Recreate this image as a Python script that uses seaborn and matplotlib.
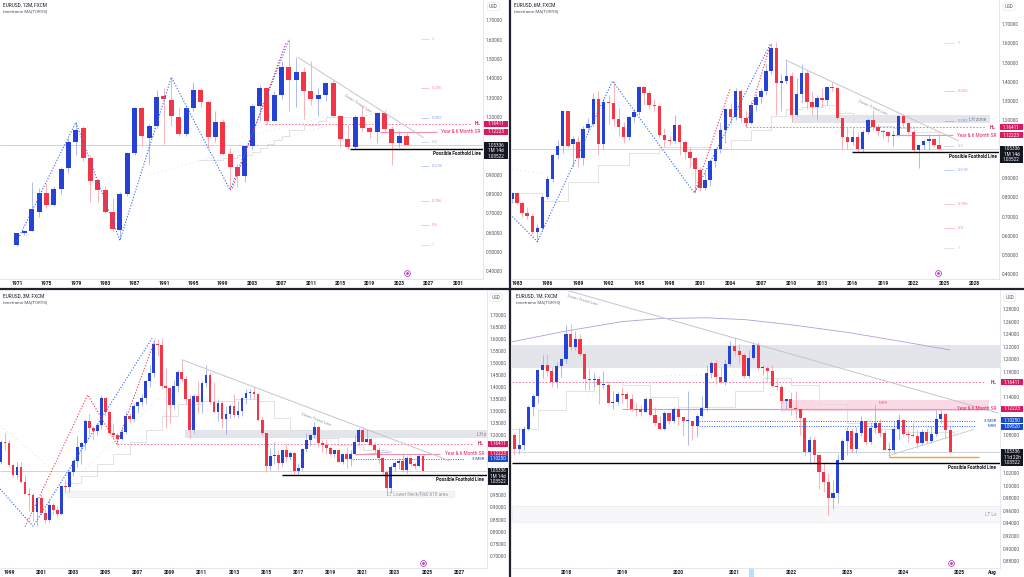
import numpy as np
import matplotlib
matplotlib.use("Agg")
import matplotlib.pyplot as plt
from matplotlib.patches import Rectangle
from matplotlib.lines import Line2D
import seaborn as sns

sns.set_theme(style="white")
plt.rcParams['font.family'] = ['Roboto', 'DejaVu Sans']

BLUE = '#2541d6'; RED = '#f23645'; WBLUE = '#9fb0ee'; WRED = '#f8a5ad'
CRIM = '#d81b60'; TBLUE = '#1848cc'; GREY = '#b2b5be'; DARK = '#131722'; LBL = '#50535e'

# ---------------- DATA ----------------
# Panel 1: 12M candles
y12_years = list(range(1971, 2025))
y12_open = [.535,.596,.608,.707,.807,.743,.828,.934,1.072,1.142,.989,.871,.821,.708,.613,.799,1.015,1.244,1.090,1.154,
            1.308,1.289,1.201,1.111,1.244,1.339,1.275,1.093,1.171,1.007,.941,.891,1.048,1.256,1.350,1.180,1.315,1.457,
            1.391,1.431,1.336,1.291,1.313,1.374,1.206,1.085,1.045,1.197,1.140,1.119,1.218,1.137,1.066,1.102]
y12_close = [.596,.608,.721,.807,.743,.828,.929,1.072,1.131,.989,.868,.821,.708,.617,.799,1.015,1.244,1.102,1.154,1.305,
             1.291,1.206,1.111,1.244,1.339,1.275,1.093,1.171,1.007,.941,.891,1.048,1.256,1.350,1.180,1.315,1.457,1.391,
             1.431,1.336,1.291,1.313,1.374,1.206,1.085,1.045,1.197,1.140,1.119,1.218,1.137,1.062,1.102,1.053]
y12_high = [.60,.615,.86,.83,.855,.84,.94,1.09,1.171,1.15,1.00,.88,.84,.78,.81,1.02,1.25,1.25,1.165,1.34,1.35,1.405,1.25,
            1.25,1.38,1.35,1.28,1.23,1.19,1.04,.955,1.05,1.265,1.367,1.35,1.335,1.49,1.604,1.51,1.46,1.49,1.35,1.38,1.39,
            1.21,1.16,1.21,1.255,1.155,1.225,1.235,1.15,1.128,1.12]
y12_low = [.53,.59,.62,.68,.73,.74,.80,.91,1.00,.97,.76,.76,.70,.61,.565,.79,1.00,1.05,.955,1.14,1.06,1.15,1.10,1.10,1.23,
           1.25,1.04,1.07,1.00,.823,.835,.86,1.03,1.18,1.164,1.18,1.29,1.23,1.25,1.19,1.26,1.205,1.28,1.20,1.046,1.035,
           1.034,1.12,1.088,1.063,1.12,.953,1.045,1.052]

# Panel 2: 6M candles from 1982.5
m6_start = 1982.5
m6_open = [0.79,0.822,0.769,0.717,0.705,0.618,0.642,0.80,0.895,1.02,1.068,1.248,1.077,1.089,1.002,1.162,1.179,1.31,1.077,
           1.297,1.288,1.207,1.167,1.115,1.215,1.245,1.371,1.34,1.279,1.274,1.124,1.098,1.092,1.174,1.089,1.037,1.002,
           0.942,0.85,0.89,0.99,1.049,1.15,1.257,1.219,1.354,1.21,1.184,1.28,1.319,1.354,1.458,1.577,1.395,1.404,1.432,
           1.227,1.336,1.447,1.297,1.267,1.317,1.305,1.375,1.369,1.21,1.115,1.089,1.111,1.051,1.141,1.201,1.167,1.146,
           1.137,1.121,1.123,1.221,1.186,1.137,1.048,1.07,1.091,1.104,1.071]
m6_close = [0.822,0.769,0.717,0.705,0.618,0.642,0.80,0.895,1.02,1.068,1.248,1.068,1.103,1.002,1.155,1.179,1.31,1.077,1.297,
            1.288,1.207,1.167,1.115,1.215,1.245,1.371,1.34,1.279,1.274,1.124,1.098,1.092,1.174,1.089,1.037,1.002,0.947,
            0.85,0.89,0.99,1.049,1.15,1.257,1.219,1.354,1.21,1.184,1.28,1.319,1.354,1.458,1.577,1.395,1.404,1.432,1.227,
            1.336,1.447,1.297,1.267,1.317,1.305,1.375,1.369,1.21,1.115,1.089,1.111,1.051,1.141,1.201,1.167,1.146,1.137,
            1.121,1.123,1.221,1.186,1.137,1.048,1.07,1.091,1.104,1.071,1.053]
m6_high = [0.83,0.83,0.78,0.75,0.72,0.66,0.81,0.91,1.03,1.10,1.25,1.25,1.12,1.12,1.17,1.21,1.34,1.35,1.31,1.33,1.405,1.27,
           1.19,1.22,1.26,1.38,1.38,1.35,1.31,1.28,1.16,1.12,1.23,1.18,1.09,1.06,1.00,0.955,0.93,1.00,1.05,1.19,1.265,
           1.29,1.367,1.36,1.25,1.30,1.335,1.37,1.49,1.60,1.604,1.44,1.51,1.45,1.42,1.49,1.46,1.35,1.33,1.37,1.38,1.40,
           1.37,1.21,1.17,1.16,1.14,1.15,1.21,1.255,1.18,1.157,1.14,1.15,1.228,1.235,1.19,1.15,1.07,1.10,1.128,1.10,1.12]
m6_low = [0.77,0.76,0.70,0.69,0.61,0.57,0.63,0.79,0.88,1.00,1.03,1.06,0.96,0.955,0.97,1.14,1.17,1.02,1.05,1.18,1.17,1.12,
          1.08,1.10,1.19,1.23,1.28,1.26,1.25,1.11,1.06,1.07,1.08,1.02,1.00,0.95,0.823,0.835,0.837,0.86,0.96,1.03,1.08,
          1.18,1.20,1.19,1.164,1.18,1.25,1.29,1.33,1.44,1.23,1.25,1.39,1.19,1.22,1.29,1.26,1.23,1.205,1.27,1.28,1.35,
          1.20,1.046,1.05,1.07,1.035,1.034,1.13,1.15,1.12,1.11,1.088,1.064,1.12,1.17,1.12,1.035,0.953,1.05,1.045,1.06,1.052]

# Panel 3: 3M candles from 1998.5
q_start = 1998.5
q_first_open = 1.087
q_close = [1.171,1.167,1.077,1.036,1.067,1.007,0.957,0.953,0.883,0.939,0.877,0.847,0.912,0.890,0.872,0.991,0.986,1.049,
           1.091,1.150,1.166,1.259,1.230,1.219,1.243,1.356,1.296,1.210,1.202,1.184,1.212,1.279,1.268,1.320,1.336,1.353,
           1.426,1.459,1.579,1.575,1.405,1.397,1.325,1.403,1.464,1.432,1.351,1.223,1.363,1.336,1.417,1.450,1.339,1.296,
           1.334,1.266,1.286,1.319,1.282,1.301,1.353,1.375,1.377,1.369,1.263,1.210,1.073,1.115,1.117,1.086,1.138,1.110,
           1.124,1.052,1.065,1.143,1.181,1.200,1.232,1.168,1.161,1.147,1.122,1.137,1.090,1.121,1.103,1.123,1.172,1.221,
           1.173,1.186,1.158,1.137,1.107,1.048,0.980,1.070,1.084,1.091,1.057,1.104,1.079,1.071,1.113,1.053]
q_high = [1.18,1.21,1.18,1.08,1.09,1.09,1.035,0.98,0.96,0.94,0.955,0.895,0.93,0.92,0.905,0.995,1.02,1.05,1.10,1.195,
          1.17,1.265,1.29,1.24,1.25,1.367,1.35,1.30,1.25,1.21,1.23,1.30,1.29,1.335,1.34,1.37,1.43,1.49,1.59,1.60,
          1.604,1.48,1.40,1.43,1.47,1.51,1.45,1.37,1.37,1.425,1.425,1.49,1.46,1.42,1.35,1.34,1.32,1.33,1.37,1.34,
          1.36,1.39,1.39,1.40,1.37,1.28,1.21,1.145,1.17,1.14,1.14,1.162,1.135,1.13,1.083,1.145,1.21,1.205,1.255,1.24,
          1.18,1.18,1.157,1.14,1.14,1.125,1.15,1.14,1.201,1.23,1.235,1.226,1.19,1.17,1.15,1.11,1.05,1.075,1.093,1.105,
          1.128,1.114,1.105,1.09,1.121,1.112]
q_low = [1.08,1.14,1.07,1.025,1.02,1.00,0.955,0.885,0.845,0.823,0.87,0.837,0.84,0.875,0.859,0.87,0.96,0.965,1.03,1.07,
         1.08,1.14,1.205,1.18,1.20,1.225,1.28,1.205,1.19,1.164,1.18,1.205,1.25,1.26,1.29,1.32,1.33,1.40,1.44,1.53,
         1.39,1.23,1.25,1.31,1.38,1.42,1.33,1.19,1.21,1.29,1.29,1.40,1.33,1.29,1.26,1.23,1.205,1.27,1.275,1.27,
         1.28,1.33,1.35,1.35,1.26,1.20,1.046,1.055,1.08,1.055,1.071,1.09,1.095,1.035,1.034,1.057,1.13,1.155,1.19,1.151,
         1.13,1.12,1.118,1.11,1.088,1.08,1.064,1.073,1.12,1.16,1.17,1.17,1.155,1.12,1.08,1.035,0.953,0.963,1.05,1.06,
         1.048,1.045,1.072,1.06,1.067,1.052]

# Panel 4: 1M candles from Jan 2017
mo_start = 2017.0
mo_first_open = 1.052
mo_close = [1.080,1.058,1.065,1.090,1.124,1.142,1.184,1.191,1.181,1.164,1.190,1.200,
            1.241,1.219,1.232,1.208,1.169,1.168,1.169,1.160,1.160,1.131,1.133,1.146,
            1.145,1.137,1.122,1.121,1.117,1.137,1.112,1.099,1.090,1.115,1.102,1.121,
            1.109,1.103,1.103,1.095,1.110,1.123,1.178,1.194,1.172,1.165,1.193,1.221,
            1.214,1.207,1.173,1.202,1.223,1.186,1.187,1.181,1.158,1.156,1.134,1.137,
            1.123,1.122,1.107,1.054,1.073,1.048,1.022,1.005,0.980,0.988,1.040,1.070,
            1.086,1.058,1.084,1.102,1.069,1.091,1.100,1.084,1.057,1.057,1.090,1.104,
            1.082,1.080,1.079,1.067,1.085,1.071,1.082,1.105,1.113,1.088,1.053]
mo_high = [1.082,1.083,1.091,1.095,1.127,1.145,1.185,1.207,1.209,1.188,1.196,1.203,
           1.254,1.256,1.245,1.240,1.210,1.185,1.179,1.173,1.182,1.162,1.150,1.148,
           1.157,1.149,1.145,1.132,1.127,1.141,1.141,1.125,1.111,1.118,1.110,1.124,
           1.124,1.106,1.150,1.102,1.113,1.142,1.191,1.197,1.201,1.188,1.200,1.230,
           1.235,1.224,1.210,1.215,1.227,1.227,1.191,1.190,1.191,1.169,1.161,1.138,
           1.148,1.150,1.118,1.108,1.079,1.077,1.049,1.037,1.020,1.009,1.050,1.074,
           1.093,1.092,1.093,1.110,1.103,1.101,1.128,1.106,1.088,1.069,1.102,1.114,
           1.105,1.090,1.099,1.088,1.090,1.092,1.094,1.120,1.121,1.114,1.094]
mo_low = [1.034,1.049,1.050,1.057,1.088,1.110,1.131,1.170,1.173,1.157,1.155,1.172,
          1.192,1.215,1.215,1.205,1.151,1.151,1.157,1.130,1.155,1.131,1.122,1.127,
          1.131,1.123,1.118,1.110,1.110,1.118,1.110,1.096,1.088,1.088,1.098,1.099,
          1.096,1.078,1.064,1.073,1.077,1.109,1.119,1.171,1.161,1.162,1.160,1.190,
          1.205,1.195,1.170,1.170,1.200,1.184,1.175,1.166,1.156,1.152,1.119,1.122,
          1.112,1.106,1.081,1.047,1.035,1.036,0.995,0.990,0.954,0.963,0.973,1.039,
          1.048,1.052,1.052,1.078,1.064,1.066,1.083,1.077,1.056,1.045,1.051,1.072,
          1.079,1.069,1.077,1.060,1.065,1.067,1.067,1.078,1.100,1.076,1.051]

# key levels
HL_LEVEL = 1.16411
SR_LEVEL = 1.12223
MSR3_LEVEL = 1.10250
MSR_LEVEL = 1.09520
CUR_PRICE = 1.05336
FOOT_LEVEL = 1.03522
FIB_HIGH, FIB_LOW = 1.6025, 0.535
FIB_RATIOS = [0, 0.236, 0.382, 0.5, 0.618, 0.786, 0.9, 1]
FIB_LABELS = ['0', '0.236', '0.382', '0.5', '0.618', '0.786', '0.9', '1']
FIB_COLORS = ['#9598a1', '#f23645', '#2962ff', '#5d7bb7', '#2962ff', '#f23645', '#f23645', '#9598a1']

# overlay paths (year, price)
p1_zig_x = [1971, 1979, 1985, 1992, 2000, 2008]
p1_zig_y = [0.556, 1.171, 0.559, 1.405, 0.820, 1.600]
p1_red_x = [2000.3, 2007.6]
p1_red_y = [0.83, 1.585]
p1_trend_x = [2009.3, 2026.3]; p1_trend_y = [1.506, 1.093]
p1_ma_x = [1995.7, 1999, 2001, 2003, 2004, 2005, 2006, 2007, 2008, 2010, 2012, 2013, 2015, 2016.5]
p1_ma_y = [0.975, 0.985, 1.00, 1.02, 1.04, 1.06, 1.08, 1.10, 1.13, 1.16, 1.18, 1.20, 1.20, 1.20]
p1_dot_x = [1989.0, 2021.7]; p1_dot_y = [0.90, 1.24]
p1_dot2_x = [2000.0, 2013.6]; p1_dot2_y = [1.075, 1.206]

p2_zig_x = [1982.55, 1985.0, 1992.4, 2000.45, 2007.95]
p2_zig_y = [0.70, 0.570, 1.404, 0.822, 1.600]
p2_red1_x = [2000.5, 2004.0]; p2_red1_y = [0.83, 1.37]
p2_red2_x = [2005.5, 2007.9]; p2_red2_y = [1.17, 1.59]
p2_trend_x = [2009.4, 2026.4]; p2_trend_y = [1.513, 1.094]
p2_ma_x = [1982.5, 1985.5, 1988, 1991, 1994, 1997, 2000, 2002, 2004, 2006, 2008, 2009.5, 2011, 2013, 2014.5, 2016, 2018, 2020, 2022, 2024.5]
p2_ma_y = [0.82, 0.78, 0.88, 0.97, 1.03, 1.06, 1.06, 1.05, 1.10, 1.15, 1.22, 1.26, 1.27, 1.28, 1.24, 1.19, 1.17, 1.16, 1.14, 1.12]
p2_dot_x = [2010.5, 2026.0]; p2_dot_y = [1.30, 1.12]
p2_dot2_x = [1982.5, 1985.5]; p2_dot2_y = [0.945, 0.925]

p3_blue_x = [1998.44, 2000.5, 2007.9]; p3_blue_y = [0.977, 0.822, 1.602]
p3_red_x = [2000.0, 2003.9, 2005.7, 2008.1]; p3_red_y = [0.82, 1.367, 1.163, 1.60]
p3_trend_x = [2009.75, 2026.4]; p3_trend_y = [1.513, 1.094]
p3_ma_x = [2002.5, 2003.5, 2004.5, 2005.5, 2006.5, 2007.5, 2008.5, 2009.5, 2011, 2013, 2014.5, 2015.5, 2016.5, 2018, 2019.5, 2021, 2022.5, 2024.8]
p3_ma_y = [1.00, 1.03, 1.08, 1.12, 1.17, 1.22, 1.28, 1.33, 1.34, 1.35, 1.34, 1.27, 1.22, 1.19, 1.16, 1.14, 1.12, 1.11]
p3_dot_x = [1998.44, 2002.4]; p3_dot_y = [1.24, 1.018]
p3_dot2_x = [2002.6, 2008.3]; p3_dot2_y = [0.99, 1.35]
p3_purple_x = [2020.6, 2022.8]; p3_purple_y = [1.118, 1.13]

p4_trend_x = [2017.93, 2025.69]; p4_trend_y = [1.3117, 1.115]
p4_long_x = [2017.04, 2018.0, 2019.0, 2019.7, 2020.5, 2021.2, 2022.0, 2023.0, 2024.0, 2024.83]
p4_long_y = [1.228, 1.245, 1.260, 1.265, 1.266, 1.263, 1.255, 1.243, 1.228, 1.215]
p4_ma_x = [2017.04, 2017.5, 2018.0, 2018.5, 2019.0, 2019.5, 2020.0, 2020.5, 2021.0, 2021.5, 2022.0, 2022.5, 2023.0, 2023.5, 2024.0, 2024.9]
p4_ma_y = [1.09, 1.12, 1.15, 1.165, 1.16, 1.14, 1.125, 1.125, 1.15, 1.17, 1.16, 1.13, 1.10, 1.09, 1.085, 1.08]
p4_dot_x = [2018.4, 2019.0, 2020.0, 2021.0, 2021.8, 2022.4]
p4_dot_y = [1.14, 1.17, 1.175, 1.175, 1.16, 1.12]
p4_rise_x = [2023.74, 2025.25]; p4_rise_y = [1.0475, 1.089]
p4_orange_x = [2023.74, 2025.34]; p4_orange_level = 1.0455

# ---------------- FIGURE ----------------
W, H = 1024, 577
fig = plt.figure(figsize=(W / 100, H / 100), dpi=100)
fig.patch.set_facecolor('white')


def fb(x0, y0, x1, y1):
    return [x0 / W, 1 - y1 / H, (x1 - x0) / W, (y1 - y0) / H]


def make_panel(box, sbox, xlim, ylim, yticks, xticks, xlabels, title, header_xy):
    ax = fig.add_axes(fb(*box))
    ax.set_facecolor('white')
    ax.set_xlim(xlim); ax.set_ylim(ylim)
    ax.yaxis.tick_right()
    ax.set_xticks(xticks)
    ax.set_xticklabels(xlabels)
    ax.tick_params(axis='y', length=0, pad=2.2, labelsize=3.4, labelcolor=LBL)
    ax.tick_params(axis='x', length=0, pad=1.6, labelsize=3.5, labelcolor=DARK)
    for lb in ax.get_xticklabels():
        lb.set_fontweight('bold')
    for s in ['top', 'left']:
        ax.spines[s].set_visible(False)
    for s in ['right', 'bottom']:
        ax.spines[s].set_color('#e0e3eb'); ax.spines[s].set_linewidth(0.6)
    ax.grid(False)
    sax = fig.add_axes(fb(*sbox))
    sax.set_xlim(0, 1); sax.set_ylim(ylim); sax.axis('off')
    sax.patch.set_alpha(0)
    ppu = (box[3] - box[1]) / (ylim[1] - ylim[0])
    ppx = (box[2] - box[0]) / (xlim[1] - xlim[0])
    hx, hy = header_xy
    fig.text(hx / W, 1 - hy / H, title, fontsize=3.4, color=DARK, va='center')
    fig.text(hx / W, 1 - (hy + 6.5) / H, 'timeframe MA[TORYS]', fontsize=3.2, color=LBL, va='center')
    sax.text(0.4, ylim[1] - 6.5 / ppu, 'USD', fontsize=3.3, color=LBL, ha='center', va='center',
             bbox=dict(boxstyle='round,pad=0.35,rounding_size=0.4', fc='white', ec='#e0e3eb', lw=0.4))
    covered = [(ylim[1] - 11 / ppu, ylim[1] + 1)]
    return dict(ax=ax, sax=sax, ppu=ppu, ppx=ppx, xlim=xlim, ylim=ylim, yticks=yticks, covered=covered)


def finish_ticks(P):
    # price labels hidden behind the scale tags are left out, as on the original scale
    ppu = P['ppu']
    keep = []
    for v in P['yticks']:
        ok = True
        for lo, hi in P['covered']:
            if lo - 2.6 / ppu < v < hi + 2.6 / ppu:
                ok = False
        if ok:
            keep.append(v)
    P['ax'].set_yticks(keep)
    P['ax'].set_yticklabels([f"{v:.5f}" for v in keep])


def candles(P, x, o, h, l, c, w):
    ax = P['ax']
    x = np.asarray(x, float); o = np.asarray(o, float); c = np.asarray(c, float)
    h = np.maximum(np.asarray(h, float), np.maximum(o, c))
    l = np.minimum(np.asarray(l, float), np.minimum(o, c))
    up = c >= o
    ax.vlines(x, l, h, colors=np.where(up, WBLUE, WRED), lw=0.6, zorder=3)
    body = c - o
    mh = 1.0 / P['ppu']
    body = np.where(np.abs(body) < mh, np.where(up, mh, -mh), body)
    ax.bar(x, body, bottom=o, width=w, color=np.where(up, BLUE, RED), linewidth=0, zorder=4)


def line(P, xs, ys, color, lw=0.7, ls='-', alpha=1.0, z=5, step=False):
    kw = dict(drawstyle='steps-post') if step else {}
    sns.lineplot(x=xs, y=ys, ax=P['ax'], color=color, linewidth=lw, linestyle=ls, alpha=alpha,
                 sort=False, estimator=None, legend=False, zorder=z, **kw)


def hline(P, y, x0, x1, color, lw=0.7, ls='-', alpha=1.0, z=5):
    P['ax'].plot([x0, x1], [y, y], color=color, lw=lw, ls=ls, alpha=alpha, zorder=z, solid_capstyle='butt')


def label(P, x, y, s, color, ha='right', size=3.4, weight='normal', clip=False, va='center'):
    P['ax'].text(x, y, s, color=color, ha=ha, va=va, fontsize=size, fontweight=weight, zorder=8, clip_on=clip)


def trend_text(P, xs, ys, frac, s, dy=0.0):
    x = xs[0] + frac * (xs[1] - xs[0]); y = ys[0] + frac * (ys[1] - ys[0]) + dy
    ang = np.degrees(np.arctan2((ys[1] - ys[0]) * P['ppu'], (xs[1] - xs[0]) * P['ppx']))
    P['ax'].text(x, y, s, rotation=ang, rotation_mode='anchor', ha='center', va='bottom',
                 fontsize=3.1, color='#9598a1', zorder=6)


def tag(P, y, s, color, h=6.0):
    d = h / 2 / P['ppu']
    P['sax'].add_patch(Rectangle((0.04, y - d), 0.92, 2 * d, fc=color, ec='none', zorder=5))
    P['sax'].text(0.5, y, s, color='white', fontsize=3.3, ha='center', va='center', zorder=6)
    P['covered'].append((y - d, y + d))


def black_box(P, y, rows):
    ppu = P['ppu']
    top = y + 3.0 / ppu
    P['sax'].add_patch(Rectangle((0.04, top - 17.0 / ppu), 0.92, 17.0 / ppu, fc=DARK, ec='none', zorder=5))
    for k, r in enumerate(rows):
        P['sax'].text(0.5, top - (3.0 + 5.5 * k) / ppu, r, color='white', fontsize=3.3,
                      ha='center', va='center', zorder=6)
    P['covered'].append((top - 17.0 / ppu, top))


def fib(P, x0, x1, xl):
    for r, lab, col in zip(FIB_RATIOS, FIB_LABELS, FIB_COLORS):
        y = FIB_HIGH - r * (FIB_HIGH - FIB_LOW)
        hline(P, y, x0, x1, col, lw=0.6, alpha=0.35)
        label(P, xl, y, lab, col, ha='left', size=3.1)
        P['ax'].texts[-1].set_alpha(0.55)


def icon(P, fx, fy):
    P['ax'].plot([fx], [fy], marker='o', ms=4.2, mfc='white', mec='#ab47bc', mew=0.6,
                 transform=P['ax'].transAxes, clip_on=False, zorder=9)
    P['ax'].plot([fx], [fy], marker='o', ms=1.0, color='#ab47bc', transform=P['ax'].transAxes,
                 clip_on=False, zorder=9)


def common_levels(P, hl_start, hl_end, sr_range, foot_start):
    ax = P['ax']
    ax.axhline(CUR_PRICE, color='#c9ccd3', lw=0.6, zorder=2)
    hline(P, HL_LEVEL, hl_start, hl_end, '#f06292', lw=0.6, ls=(0, (2, 2)), z=2)
    hline(P, SR_LEVEL, sr_range[0], sr_range[1], '#f48fb1', lw=0.8, z=2)
    hline(P, FOOT_LEVEL, foot_start, P['xlim'][1], '#000000', lw=1.0, z=7)


MA_COL = '#dadde2'
DOT_COL = '#d0d3d9'

# ---------------- PANEL 1 (12M) ----------------
P1 = make_panel((0, 0, 483, 279), (483, 0, 509, 279), (1968.69, 2034.4), (0.360, 1.805),
                [round(0.4 + 0.1 * i, 2) for i in range(14)], list(range(1971, 2032, 4)),
                [str(v) for v in range(1971, 2032, 4)], 'EURUSD, 12M, FXCM', (3, 5))
line(P1, p1_ma_x, p1_ma_y, MA_COL, lw=0.6, z=2, step=True)
line(P1, p1_dot_x, p1_dot_y, DOT_COL, lw=0.6, ls=(0, (1, 4)), z=2)
line(P1, p1_dot2_x, p1_dot2_y, DOT_COL, lw=0.6, ls=(0, (1, 4)), z=2)
common_levels(P1, 2004.7, 2032.6, (2020.4, 2028.2), 2016.3)
candles(P1, y12_years, y12_open, y12_high, y12_low, y12_close, 0.68)
line(P1, p1_zig_x, p1_zig_y, '#2962ff', lw=0.8, ls=(0, (1, 1.6)), z=6)
line(P1, p1_red_x, p1_red_y, '#f23645', lw=0.8, ls=(0, (1, 1.6)), z=6)
line(P1, p1_trend_x, p1_trend_y, '#c3c6cd', lw=0.7, z=6)
trend_text(P1, p1_trend_x, p1_trend_y, 0.47, 'Down Trend Line', dy=-0.05)
fib(P1, 2026.0, 2027.0, 2027.4)
label(P1, 2034.0, HL_LEVEL, 'HL', CRIM, weight='bold')
label(P1, 2034.0, SR_LEVEL, 'Year & 6 Month SR', '#e91e63')
label(P1, 2034.1, 1.012, 'Possible Foothold Line', DARK, weight='bold')
tag(P1, HL_LEVEL, '1.16411', CRIM)
tag(P1, SR_LEVEL, '1.12223', CRIM)
black_box(P1, CUR_PRICE, ['1.05336', '1M 14d', '1.03522'])
icon(P1, 406.7 / 483, 6 / 279)
finish_ticks(P1)

# ---------------- PANEL 2 (6M) ----------------
P2 = make_panel((512, 0, 999, 279), (999, 0, 1024, 279), (1982.51, 2030.4), (0.376, 1.8246),
                [round(0.4 + 0.1 * i, 2) for i in range(14)], list(range(1983, 2029, 3)),
                [str(v) for v in range(1983, 2029, 3)], 'EURUSD, 6M, FXCM', (514, 5))
m6_x = [m6_start + 0.5 * i for i in range(len(m6_close))]
line(P2, p2_ma_x, p2_ma_y, MA_COL, lw=0.6, z=2, step=True)
line(P2, p2_dot_x, p2_dot_y, DOT_COL, lw=0.6, ls=(0, (1, 4)), z=2)
line(P2, p2_dot2_x, p2_dot2_y, DOT_COL, lw=0.6, ls=(0, (1, 4)), z=2)
P2['ax'].add_patch(Rectangle((2010.0, 1.188), 2029.5 - 2010.0, 1.225 - 1.188, fc='#d1d4dc', ec='none',
                             alpha=0.6, zorder=1))
common_levels(P2, 2005.5, 2029.0, (2020.2, 2025.9), 2015.9)
candles(P2, m6_x, m6_open, m6_high, m6_low, m6_close, 0.34)
line(P2, p2_zig_x, p2_zig_y, '#2962ff', lw=0.8, ls=(0, (1, 1.6)), z=6)
line(P2, p2_red1_x, p2_red1_y, '#f23645', lw=0.8, ls=(0, (1, 1.6)), z=6)
line(P2, p2_red2_x, p2_red2_y, '#f23645', lw=0.8, ls=(0, (1, 1.6)), z=6)
line(P2, p2_trend_x, p2_trend_y, '#c3c6cd', lw=0.7, z=6)
trend_text(P2, p2_trend_x, p2_trend_y, 0.5, 'Down Trend Line', dy=-0.05)
fib(P2, 2025.0, 2026.0, 2026.3)
label(P2, 2028.3, 1.206, 'LH zone', '#787b86', ha='center', size=3.3)
label(P2, 2030.1, HL_LEVEL, 'HL', CRIM, weight='bold')
label(P2, 2030.1, SR_LEVEL, 'Year & 6 Month SR', '#e91e63')
label(P2, 2030.2, 1.0145, 'Possible Foothold Line', DARK, weight='bold')
tag(P2, HL_LEVEL, '1.16411', CRIM)
tag(P2, SR_LEVEL, '1.12223', CRIM)
black_box(P2, CUR_PRICE, ['1.05336', '1M 14d', '1.03522'])
icon(P2, (938 - 512) / 487, 6 / 279)
finish_ticks(P2)

# ---------------- PANEL 3 (3M) ----------------
P3 = make_panel((0, 291, 487, 568), (487, 291, 509, 568), (1998.44, 2028.74), (0.649, 1.798),
                [round(0.70 + 0.05 * i, 2) for i in range(21)], list(range(1999, 2028, 2)),
                [str(v) for v in range(1999, 2028, 2)], 'EURUSD, 3M, FXCM', (3, 296))
q_x = [q_start + 0.25 * i for i in range(len(q_close))]
q_open = [q_first_open] + q_close[:-1]
P3['ax'].add_patch(Rectangle((2009.95, 1.187), 2028.74 - 2009.95, 1.221 - 1.187, fc='#d1d4dc', ec='none',
                             alpha=0.6, zorder=1))
P3['ax'].add_patch(Rectangle((2002.6, 0.942), 2026.7 - 2002.6, 0.970 - 0.942, fc='#f5f5f7', ec='#e6e7ea',
                             lw=0.4, zorder=1))
line(P3, p3_ma_x, p3_ma_y, MA_COL, lw=0.6, z=2, step=True)
line(P3, p3_dot_x, p3_dot_y, DOT_COL, lw=0.6, ls=(0, (1, 4)), z=2)
line(P3, p3_dot2_x, p3_dot2_y, DOT_COL, lw=0.6, ls=(0, (1, 4)), z=2)
line(P3, p3_purple_x, p3_purple_y, '#c5b3e6', lw=0.6, z=2)
common_levels(P3, 2005.7, 2027.9, (2020.5, 2025.8), 2016.0)
hline(P3, MSR3_LEVEL, 2020.4, 2027.3, '#2962ff', lw=0.7, ls=(0, (1, 1.5)), z=6)
candles(P3, q_x, q_open, q_high, q_low, q_close, 0.17)
line(P3, p3_blue_x, p3_blue_y, '#2962ff', lw=0.8, ls=(0, (1, 1.6)), z=6)
line(P3, p3_red_x, p3_red_y, '#f23645', lw=0.8, ls=(0, (1, 1.6)), z=6)
line(P3, p3_trend_x, p3_trend_y, '#c3c6cd', lw=0.7, z=6)
trend_text(P3, p3_trend_x, p3_trend_y, 0.5, 'Down Trend Line', dy=-0.045)
label(P3, 2028.1, 1.204, 'LH z', '#787b86', ha='left', size=3.3)
label(P3, 2024.4, 0.955, 'LT Lower Neck/Fib0.618 area', '#9598a1', ha='center', size=3.3)
label(P3, 2028.5, HL_LEVEL, 'HL', CRIM, weight='bold')
label(P3, 2028.56, SR_LEVEL + 0.002, 'Year & 6 Month SR', '#e91e63')
label(P3, 2028.56, MSR3_LEVEL - 0.002, '3 MSR', TBLUE, size=3.1)
label(P3, 2028.56, 1.018, 'Possible Foothold Line', DARK, weight='bold')
tag(P3, HL_LEVEL, '1.16411', CRIM)
tag(P3, SR_LEVEL, '1.12223', CRIM)
tag(P3, MSR3_LEVEL, '1.10250', TBLUE)
black_box(P3, CUR_PRICE, ['1.05336', '1M 14d', '1.03522'])
icon(P3, 423 / 487, 5 / 277)
finish_ticks(P3)

# ---------------- PANEL 4 (1M) ----------------
p4_ticks = [2018, 2019, 2020, 2021, 2022, 2023, 2024, 2025, 2025 + 7 / 12]
p4_tlabels = ['2018', '2019', '2020', '2021', '2022', '2023', '2024', '2025', 'Aug']
P4 = make_panel((512, 291, 1000, 568), (1000, 291, 1024, 568), (2017.04, 2025.72), (0.8694, 1.3085),
                [round(0.88 + 0.02 * i, 2) for i in range(21)], p4_ticks, p4_tlabels,
                'EURUSD, 1M, FXCM', (516, 296))
mo_x = [mo_start + i / 12 for i in range(len(mo_close))]
mo_open = [mo_first_open] + mo_close[:-1]
ax4 = P4['ax']
ax4.add_patch(Rectangle((2017.04, 1.187), 2025.72 - 2017.04, 1.223 - 1.187, fc='#d1d4dc', ec='none',
                        alpha=0.6, zorder=1))
ax4.add_patch(Rectangle((2021.83, 1.119), 2025.52 - 2021.83, 1.135 - 1.119, fc='#f8bbd0', ec='none',
                        alpha=0.55, zorder=1))
ax4.add_patch(Rectangle((2017.04, 0.942), 2025.72 - 2017.04, 0.968 - 0.942, fc='#f7f7f9', ec='#e6e7ea',
                        lw=0.4, zorder=1))
ax4.add_patch(Rectangle((2021.26, -0.033), 0.08, 0.033, transform=ax4.get_xaxis_transform(),
                        fc='#bbdefb', ec='none', clip_on=False, zorder=1))
line(P4, p4_long_x, p4_long_y, '#b39ddb', lw=0.6, z=2)
line(P4, p4_ma_x, p4_ma_y, MA_COL, lw=0.6, z=2, step=True)
line(P4, p4_dot_x, p4_dot_y, DOT_COL, lw=0.6, ls=(0, (1, 4)), z=2)
common_levels(P4, 2017.04, 2025.45, (2019.0, 2025.5), 2017.04)
hline(P4, MSR3_LEVEL, 2020.36, 2025.3, '#2962ff', lw=0.7, ls=(0, (1, 1.5)), z=6)
hline(P4, MSR_LEVEL, 2020.36, 2025.3, '#2962ff', lw=0.7, ls=(0, (1, 1.5)), z=6)
line(P4, p4_rise_x, p4_rise_y, '#c3c6cd', lw=0.6, z=3)
hline(P4, p4_orange_level, p4_orange_x[0], p4_orange_x[1], '#f5a623', lw=1.0, z=6)
candles(P4, mo_x, mo_open, mo_high, mo_low, mo_close, 0.055)
line(P4, p4_trend_x, p4_trend_y, '#c3c6cd', lw=0.7, z=6)
trend_text(P4, p4_trend_x, p4_trend_y, 0.045, 'Down Trend Line', dy=-0.012)
label(P4, 2023.65, 1.131, 'MSR', '#f06292', ha='center', size=3.2)
label(P4, 2025.45, 0.955, 'LT Lo', '#9598a1', ha='left', size=3.3)
label(P4, 2025.65, HL_LEVEL, 'HL', CRIM, weight='bold')
label(P4, 2025.65, SR_LEVEL, 'Year & 6 Month SR', '#e91e63')
label(P4, 2025.65, MSR3_LEVEL + 0.0005, '3 MSR', TBLUE, size=3.1)
label(P4, 2025.65, MSR_LEVEL - 0.0005, 'MSR', TBLUE, size=3.1)
label(P4, 2025.65, 1.028, 'Possible Foothold Line', DARK, weight='bold')
tag(P4, HL_LEVEL, '1.16411', CRIM)
tag(P4, SR_LEVEL, '1.12223', CRIM)
tag(P4, MSR3_LEVEL + 0.0015, '1.10250', TBLUE)
tag(P4, MSR_LEVEL - 0.0015, '1.09520', TBLUE)
black_box(P4, CUR_PRICE, ['1.05336', '11d 22h', '1.03522'])
icon(P4, (951 - 512) / 488, 5 / 277)
finish_ticks(P4)

# ---------------- DIVIDERS ----------------
fig.add_artist(Line2D([0, 1], [1 - 288.5 / H] * 2, transform=fig.transFigure, color='#1e222d', lw=1.6))
fig.add_artist(Line2D([510.3 / W] * 2, [0, 1], transform=fig.transFigure, color='#1e222d', lw=1.6))

fig.savefig('out.png', dpi=100)
